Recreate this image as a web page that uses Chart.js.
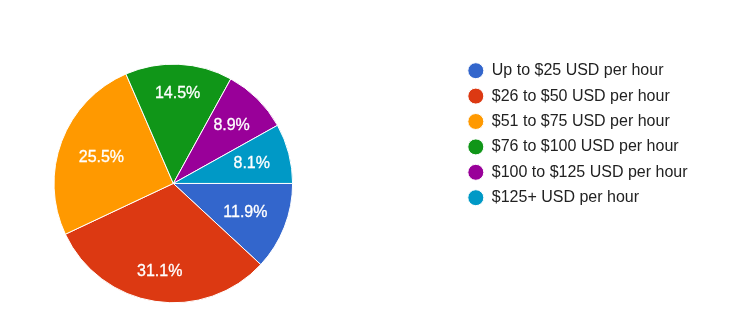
<!DOCTYPE html>
<html>
<head>
<meta charset="utf-8">
<script src="https://cdn.jsdelivr.net/npm/chart.js@4/dist/chart.umd.min.js"></script>
<style>
  html, body { margin: 0; padding: 0; background: #fff; }
</style>
</head>
<body>
<canvas id="rateChart" width="738" height="326"></canvas>
<script>
// --- data ---
const categories = [
  "Up to $25 USD per hour",
  "$26 to $50 USD per hour",
  "$51 to $75 USD per hour",
  "$76 to $100 USD per hour",
  "$100 to $125 USD per hour",
  "$125+ USD per hour"
];
const shares = [11.9, 31.1, 25.5, 14.5, 8.9, 8.1];
const sliceColors = ["#3366cc", "#dc3912", "#ff9900", "#109618", "#990099", "#0099c6"];

const FONT = '"Liberation Sans", Arial, sans-serif';
const PIE_CENTER_X = 173.3;

// pie sits well left of the legend, so widen the chart area to the left
const shiftPie = {
  id: "shiftPie",
  afterLayout(chart) {
    const area = chart.chartArea;
    area.left = 2 * PIE_CENTER_X - area.right;
    area.width = area.right - area.left;
  }
};

// white percentage text inside each slice
const sliceLabels = {
  id: "sliceLabels",
  afterDatasetsDraw(chart) {
    const ctx = chart.ctx;
    const arcs = chart.getDatasetMeta(0).data;
    ctx.save();
    ctx.font = "16px " + FONT;
    ctx.fillStyle = "#fff";
    ctx.strokeStyle = "#fff";
    ctx.lineWidth = 0.3;
    ctx.textAlign = "center";
    ctx.textBaseline = "middle";
    arcs.forEach((arc, i) => {
      const {x, y, startAngle, endAngle, outerRadius} =
        arc.getProps(["x", "y", "startAngle", "endAngle", "outerRadius"], true);
      const mid = (startAngle + endAngle) / 2;
      const c = Math.cos(mid), s = Math.sin(mid);
      const text = shares[i].toFixed(1) + "%";
      const w = ctx.measureText(text).width, h = 12;
      // push label out until its outer corner reaches ~84% of the radius
      const ox = Math.sign(c) * w / 2, oy = Math.sign(s) * h / 2;
      const reach = outerRadius * 0.84;
      const b = c * ox + s * oy;
      const r = -b + Math.sqrt(b * b - (ox * ox + oy * oy - reach * reach));
      ctx.fillText(text, x + c * r, y + s * r + 1);
      ctx.strokeText(text, x + c * r, y + s * r + 1);
    });
    ctx.restore();
  }
};

new Chart(document.getElementById("rateChart"), {
  type: "pie",
  data: {
    labels: categories,
    datasets: [{
      data: shares,
      backgroundColor: sliceColors,
      borderColor: "#fff",
      borderWidth: 1,
      radius: 119.3
    }]
  },
  options: {
    responsive: false,
    animation: false,
    events: [],
    rotation: 90,
    layout: {
      padding: {left: 0, right: 40.5, top: 53.3, bottom: 12.4}
    },
    plugins: {
      tooltip: {enabled: false},
      legend: {
        position: "right",
        align: "start",
        labels: {
          usePointStyle: true,
          pointStyle: "circle",
          pointStyleWidth: 16,
          boxHeight: 11.3,
          padding: 9.4,
          color: "#222",
          font: {size: 16, family: FONT}
        }
      }
    }
  },
  plugins: [shiftPie, sliceLabels]
});
</script>
</body>
</html>
